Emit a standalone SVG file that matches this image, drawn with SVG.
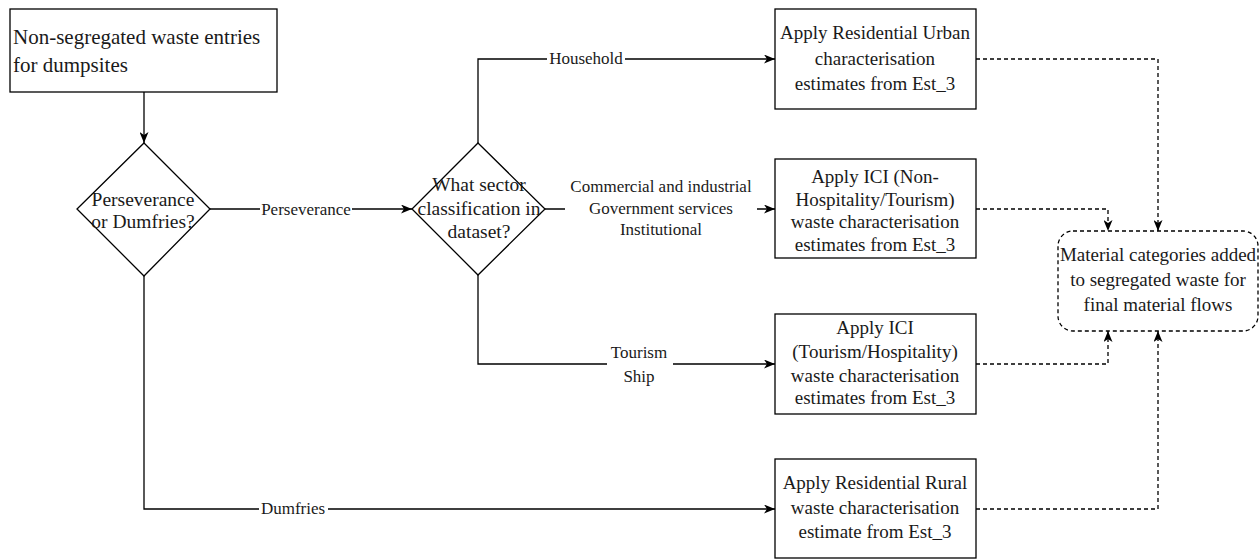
<svg xmlns="http://www.w3.org/2000/svg" width="1259" height="559" viewBox="0 0 1259 559">
  <style>
    .box { fill: #ffffff; stroke: #000000; stroke-width: 1.3; }
    .dbox { fill: #ffffff; stroke: #000000; stroke-width: 1.3; stroke-dasharray: 4 3; }
    .t { font-family: "Liberation Serif", "Times New Roman", serif; font-size: 19px; fill: #1a1a1a; text-anchor: middle; }
    .td { font-family: "Liberation Serif", "Times New Roman", serif; font-size: 19.5px; fill: #1a1a1a; text-anchor: middle; }
    .tl { font-family: "Liberation Serif", "Times New Roman", serif; font-size: 21px; fill: #1a1a1a; }
    .lbl { font-family: "Liberation Serif", "Times New Roman", serif; font-size: 17px; fill: #1a1a1a; text-anchor: middle; }
    .edge { fill: none; stroke: #000000; stroke-width: 1.3; marker-end: url(#arrow); }
    .dash { fill: none; stroke: #000000; stroke-width: 1.3; stroke-dasharray: 4 3; marker-end: url(#arrow); }
    .bg { fill: #ffffff; }
  </style>
  <defs>
    <marker id="arrow" viewBox="0 0 11 9" refX="11" refY="4.5" markerWidth="11" markerHeight="9" markerUnits="userSpaceOnUse" orient="auto">
      <path d="M0,0 L11,4.5 L0,9 L3,4.5 z" fill="#000000"/>
    </marker>
  </defs>
  <rect width="1259" height="559" fill="#ffffff"/>

  <!-- connectors -->
  <g id="connectors">
    <path class="edge" d="M144,92 V143"/>
    <path class="edge" d="M210,209 H412"/>
    <path class="edge" d="M478,143 V59 H775"/>
    <path class="edge" d="M545,209 H775"/>
    <path class="edge" d="M478,275 V364 H775"/>
    <path class="edge" d="M144,276 V509 H775"/>
    <path class="dash" d="M976,59 H1158 V231"/>
    <path class="dash" d="M976,209 H1108 V231"/>
    <path class="dash" d="M976,364 H1108 V331"/>
    <path class="dash" d="M976,509 H1158 V331"/>

    <!-- edge labels -->
    <rect class="bg" x="260" y="201" width="92" height="17"/>
    <text class="lbl" x="306" y="215">Perseverance</text>
    <rect class="bg" x="547" y="50" width="78" height="17"/>
    <text class="lbl" x="586" y="64">Household</text>
    <rect class="bg" x="565" y="176" width="192" height="66"/>
    <text class="lbl" x="661" y="192">Commercial and industrial</text>
    <text class="lbl" x="661" y="214">Government services</text>
    <text class="lbl" x="661" y="235">Institutional</text>
    <rect class="bg" x="607" y="342" width="66" height="44"/>
    <text class="lbl" x="639" y="358">Tourism</text>
    <text class="lbl" x="639" y="382">Ship</text>
    <rect class="bg" x="259" y="500" width="69" height="17"/>
    <text class="lbl" x="293" y="514">Dumfries</text>
  </g>

  <!-- start node -->
  <g id="start">
    <rect class="box" x="10" y="9" width="267" height="83"/>
    <text class="tl" x="13" y="44">Non-segregated waste entries</text>
    <text class="tl" x="13" y="72">for dumpsites</text>
  </g>

  <!-- decision: location -->
  <g id="decision-location">
    <polygon class="box" points="144,143 210,209 144,276 77,209"/>
    <text class="td" x="143" y="206">Perseverance</text>
    <text class="td" x="143" y="228">or Dumfries?</text>
  </g>

  <!-- decision: sector -->
  <g id="decision-sector">
    <polygon class="box" points="478,143 545,209 478,275 412,209"/>
    <text class="td" x="479" y="191">What sector</text>
    <text class="td" x="479" y="215">classification in</text>
    <text class="td" x="479" y="238">dataset?</text>
  </g>

  <!-- process nodes -->
  <g id="residential-urban">
    <rect class="box" x="775" y="9" width="201" height="100"/>
    <text class="t" x="875" y="39">Apply Residential Urban</text>
    <text class="t" x="875" y="65">characterisation</text>
    <text class="t" x="875" y="90">estimates from Est_3</text>
  </g>

  <g id="ici-non-hospitality">
    <rect class="box" x="775" y="159" width="201" height="99"/>
    <text class="t" x="875" y="183">Apply ICI (Non-</text>
    <text class="t" x="875" y="206">Hospitality/Tourism)</text>
    <text class="t" x="875" y="228">waste characterisation</text>
    <text class="t" x="875" y="251">estimates from Est_3</text>
  </g>

  <g id="ici-tourism">
    <rect class="box" x="775" y="314" width="201" height="100"/>
    <text class="t" x="875" y="334">Apply ICI</text>
    <text class="t" x="875" y="358">(Tourism/Hospitality)</text>
    <text class="t" x="875" y="382">waste characterisation</text>
    <text class="t" x="875" y="404">estimates from Est_3</text>
  </g>

  <g id="residential-rural">
    <rect class="box" x="775" y="459" width="201" height="99"/>
    <text class="t" x="875" y="489">Apply Residential Rural</text>
    <text class="t" x="875" y="514">waste characterisation</text>
    <text class="t" x="875" y="538">estimate from Est_3</text>
  </g>

  <!-- final node -->
  <g id="material-flows">
    <rect class="dbox" x="1058" y="231" width="200" height="100" rx="15" ry="15"/>
    <text class="t" x="1158" y="261">Material categories added</text>
    <text class="t" x="1158" y="286">to segregated waste for</text>
    <text class="t" x="1158" y="311">final material flows</text>
  </g>
</svg>
